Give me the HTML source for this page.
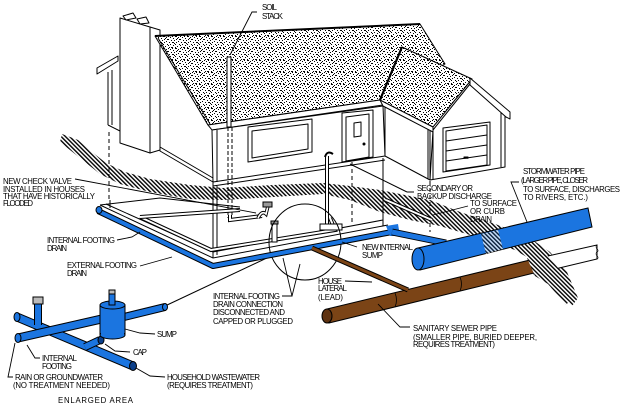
<!DOCTYPE html>
<html><head><meta charset="utf-8"><style>
html,body{margin:0;padding:0;background:#fff;}
svg{display:block}
text{font-family:"Liberation Sans",sans-serif;font-size:7.8px;fill:#000}
</style></head><body>
<svg width="620" height="412" viewBox="0 0 620 412" xmlns="http://www.w3.org/2000/svg">
<defs>
<pattern id="st" width="12" height="12" patternUnits="userSpaceOnUse">
<rect width="12" height="12" fill="#fff"/>
<path fill="#000" d="M0 0h1v1h-1zM4 0h1v1h-1zM7 0h2v1h-2zM2 1h1v1h-1zM10 1h1v1h-1zM0 3h1v1h-1zM5 2h1v1h-1zM8 3h1v1h-1zM11 3h1v1h-1zM3 4h1v1h-1zM6 4h1v1h-1zM10 5h1v1h-1zM1 6h1v1h-1zM4 6h2v1h-2zM8 6h1v1h-1zM2 8h1v1h-1zM7 8h1v1h-1zM11 8h1v1h-1zM0 9h1v1h-1zM5 9h1v1h-1zM9 10h1v1h-1zM3 11h2v1h-2zM7 11h1v1h-1zM1 11h1v1h-1zM6 7h1v1h-1zM9 2h1v1h-1z"/>
</pattern>
<pattern id="h" width="3" height="3" patternUnits="userSpaceOnUse" patternTransform="rotate(-45)">
<rect width="3" height="3" fill="#fff"/>
<rect width="1.4" height="3" fill="#000"/>
</pattern>
</defs>
<rect width="620" height="412" fill="#fff"/>

<!-- earth band -->
<polygon fill="url(#h)" points="62,134 78,140 92,152 106,163 125,172 150,179 190,185 223,188 273,185 323,183 350,186 380,190 410,196 430,200 460,212 490,222 527,236 550,252 567,272 578,298 572,306 558,285 540,265 515,250 480,238 440,226 410,220 380,212 350,200 323,194 273,197 223,200 190,199 150,192 120,184 100,174 85,162 70,150 60,142"/>

<g stroke="#000" stroke-width="1" fill="#fff" stroke-linejoin="round">
<!-- left back element -->
<polygon points="97,68 118,56 118,61 97,74"/>
<line x1="108" y1="72" x2="108" y2="125"/>
<line x1="112" y1="70" x2="112" y2="125"/>
<line x1="108" y1="125" x2="120" y2="131"/>
<line x1="109" y1="132" x2="109" y2="200" stroke-dasharray="4,3"/>

<!-- side wall -->
<polygon points="158,40 208,125 213,130 213,182 160,151"/>
<line x1="160" y1="147" x2="213" y2="178"/>
<!-- chimney -->
<polygon points="150,27 160,30 160,150 150,153"/>
<polygon points="120,18 150,27 150,153 120,143"/>
<polygon points="123,16 133,13 136,18 126,20"/>
<polygon points="137,19 146,17 149,23 140,24"/>

<!-- main roof -->
<polygon fill="url(#st)" points="155,36 420,24 445,64 380,100 208,125"/>
<line x1="155" y1="36" x2="420" y2="24" stroke-width="2"/>
<line x1="158" y1="38" x2="210" y2="124"/>
<polygon points="208,125 380,100 383,105 212,130"/>

<!-- front wall -->
<polygon points="212,130 383,106 385,156 213,182"/>
<line x1="213" y1="186" x2="385" y2="160"/>
<line x1="217" y1="130" x2="217" y2="182"/>
<line x1="387" y1="106" x2="387" y2="156"/>
<!-- window -->
<polygon points="248,127 312,119 312,152 248,162"/>
<polygon points="252,131 308,124 308,149 252,158"/>
<!-- door -->
<polygon points="342,113 373,110 373,157 342,162"/>
<polygon points="346,117 369,114 369,157 346,161"/>
<polygon points="354,123 361,122 361,136 354,137"/>
<circle cx="364" cy="144" r="1" fill="#000"/>

<!-- garage side wall -->
<polygon points="385,104 430,128 430,180 385,156"/>
<!-- garage gable wall -->
<polygon points="433,130 470,84 505,115 505,167 430,180"/>
<line x1="428" y1="128" x2="428" y2="179"/>
<line x1="433" y1="130" x2="433" y2="179"/>
<line x1="501" y1="112" x2="501" y2="167"/>
<!-- garage door -->
<polygon points="443,128 490,122 490,165 443,172"/>
<polygon points="446,131 487,125 487,165 446,171"/>
<line x1="446" y1="141" x2="487" y2="135"/>
<line x1="446" y1="151" x2="487" y2="145"/>
<line x1="446" y1="161" x2="487" y2="155"/>
<rect x="464" y="157" width="4" height="1.2" fill="#000"/>

<!-- garage roof -->
<polygon fill="url(#st)" points="380,100 402,47 472,79 433,127"/>
<line x1="380" y1="100" x2="402" y2="47" stroke-width="2.2"/>
<polygon points="380,100 433,127 433,132 383,106"/>
<polygon points="470,78 510,112 510,119 506,117 470,85"/>

<!-- soil stack -->
<rect x="227" y="57" width="4" height="70" fill="#fff"/>
<line x1="228" y1="127" x2="228" y2="218" stroke-dasharray="4,2"/>
<line x1="232" y1="127" x2="232" y2="215" stroke-dasharray="4,2"/>
</g>

<!-- basement lines -->
<g stroke="#000" stroke-width="1" fill="none">
<line x1="213" y1="182" x2="213" y2="258"/>
<line x1="217" y1="186" x2="217" y2="255"/>
<line x1="383" y1="158" x2="383" y2="226"/>
<line x1="430" y1="181" x2="430" y2="232" stroke-dasharray="4,3"/>
<line x1="352" y1="162" x2="352" y2="222" stroke-dasharray="4,3"/>
<polyline points="100,205 213,258 388,225"/>
<polyline points="106,204 213,252 383,220"/>
<polyline points="100,205 160,198 240,207"/>
<line x1="110" y1="200" x2="110" y2="208"/>
<!-- internal footing drain -->
<polyline points="140,217 211,250 335,230 330,218" stroke-width="4"/>
<polyline points="140,217 211,250 335,230 330,218" stroke="#fff" stroke-width="2"/>
<polyline points="140,217 240,210" stroke-width="4"/>
<polyline points="140,217 240,210" stroke="#fff" stroke-width="2"/>
<!-- stack pipe to check valve -->
<polyline points="230,215 230,220 262,216" stroke-width="4"/>
<polyline points="230,215 230,220 262,216" stroke="#fff" stroke-width="2"/>
<path d="M258,218 q4,-8 8,-4 l2,-8" stroke-width="3.5"/>
<path d="M258,218 q4,-8 8,-4 l2,-8" stroke="#fff" stroke-width="1.6"/>
<rect x="263" y="202" width="9" height="5" fill="#999"/>
<!-- secondary pipe -->
<line x1="327" y1="156" x2="327" y2="228" stroke-width="4"/>
<line x1="327" y1="156" x2="327" y2="228" stroke="#fff" stroke-width="2"/>
<path d="M325,157 q2,-7 8,-3" stroke-width="2"/>
<line x1="350" y1="164" x2="407" y2="192"/>
<line x1="407" y1="192" x2="414" y2="192"/>
<!-- to surface pipe -->
<line x1="386" y1="200" x2="432" y2="220" stroke-width="4"/>
<line x1="386" y1="200" x2="432" y2="220" stroke="#fff" stroke-width="2"/>
<!-- capped connection -->
<rect x="272" y="224" width="5" height="18" fill="#fff"/>
<rect x="271" y="221" width="7" height="3" fill="#999"/>
<rect x="320" y="224" width="22" height="6" fill="#fff"/>
<!-- sump circle -->
<ellipse cx="305" cy="242" rx="36" ry="38"/>
<line x1="165" y1="306" x2="271" y2="256"/>
</g>

<!-- external blue drain -->
<polyline points="98,211 213,266 392,232" fill="none" stroke="#000" stroke-width="6" stroke-linejoin="round"/>
<polyline points="98,211 213,266 392,232" fill="none" stroke="#1b75e0" stroke-width="4" stroke-linejoin="round"/>
<ellipse cx="99" cy="210" rx="3" ry="3.5" fill="#1b75e0" stroke="#000"/>
<polygon points="386,226 398,224 400,236 390,236" fill="#1b75e0"/>
<line x1="392" y1="232" x2="446" y2="243" stroke="#000" stroke-width="7"/>
<line x1="392" y1="232" x2="446" y2="243" stroke="#1b75e0" stroke-width="5"/>

<!-- stormwater pipe -->
<polygon points="418,248 588,208 592,227 420,270" fill="#1b75e0" stroke="#000"/>
<ellipse cx="418" cy="259" rx="6" ry="11" fill="#1b75e0" stroke="#000"/>
<polygon points="481,234 498,230 503,249 486,254" fill="url(#h)" opacity="0.75"/>

<!-- sewer pipe -->
<polygon points="530,260 597,245 597,259 534,274" fill="#fff" stroke="#000"/>
<path d="M597,245 c-3,3 3,5 0,7 c-3,3 3,5 0,7" fill="#fff" stroke="#000"/>
<polygon points="327,309 530,260 534,273 329,323" fill="#7b4416" stroke="#000"/>
<ellipse cx="327" cy="316" rx="5" ry="7" fill="#5e3210" stroke="#000"/>
<path d="M395,293 q3,7 0,14" stroke="#000" fill="none" stroke-width="0.8"/>
<path d="M460,277 q3,7 0,14" stroke="#000" fill="none" stroke-width="0.8"/>
<polygon fill="url(#h)" points="527,258 546,254 560,270 572,298 566,305 548,284 535,276"/>
<!-- house lateral -->
<line x1="312" y1="248" x2="408" y2="290" stroke="#000" stroke-width="5"/>
<line x1="312" y1="248" x2="408" y2="290" stroke="#7b4416" stroke-width="3"/>

<!-- enlarged area pipes -->
<g stroke-linecap="butt">
<line x1="17" y1="317" x2="133" y2="366" stroke="#000" stroke-width="9"/>
<line x1="17" y1="317" x2="133" y2="366" stroke="#1b75e0" stroke-width="7"/>
<line x1="85" y1="347" x2="100" y2="340" stroke="#000" stroke-width="8"/>
<line x1="85" y1="347" x2="100" y2="340" stroke="#1b75e0" stroke-width="6"/>
<ellipse cx="101" cy="340" rx="3" ry="4" fill="#0b3f8a" stroke="#000"/>
<ellipse cx="133" cy="366" rx="3.5" ry="4.5" fill="#0b3f8a" stroke="#000"/>
<ellipse cx="17" cy="317" rx="3" ry="4.5" fill="#1b75e0" stroke="#000"/>
<line x1="38" y1="304" x2="38" y2="325" stroke="#000" stroke-width="8"/>
<line x1="38" y1="304" x2="38" y2="325" stroke="#1b75e0" stroke-width="6"/>
<rect x="33" y="297" width="10" height="7" fill="#bbb" stroke="#000"/>
<line x1="18" y1="338" x2="106" y2="318" stroke="#000" stroke-width="9"/>
<line x1="18" y1="338" x2="106" y2="318" stroke="#1b75e0" stroke-width="7"/>
<ellipse cx="18" cy="338" rx="3" ry="4.5" fill="#1b75e0" stroke="#000"/>
<line x1="120" y1="318" x2="165" y2="307" stroke="#000" stroke-width="8"/>
<line x1="120" y1="318" x2="165" y2="307" stroke="#1b75e0" stroke-width="6"/>
<ellipse cx="165" cy="307" rx="2.5" ry="3.5" fill="#1b75e0" stroke="#000"/>
<rect x="100" y="305" width="25" height="30" fill="#1b75e0" stroke="#000"/>
<ellipse cx="112.5" cy="335" rx="12.5" ry="4" fill="#1b75e0" stroke="#000"/>
<rect x="101" y="320" width="23" height="14" fill="#1b75e0"/>
<ellipse cx="112.5" cy="305" rx="12.5" ry="4" fill="#1b75e0" stroke="#000"/>
<rect x="109" y="292" width="6" height="13" fill="#1b75e0" stroke="#000"/>
<rect x="109" y="290" width="6" height="4" fill="#bbb" stroke="#000"/>
</g>

<!-- leader lines -->
<g stroke="#000" stroke-width="0.9" fill="none">
<polyline points="257,12 252,12 230,55"/>
<line x1="75" y1="179" x2="256" y2="213"/>
<polyline points="117,240 132,237 140,232"/>
<polyline points="140,266 172,257"/>
<polyline points="357,247 342,242"/>
<polyline points="345,281 372,282"/>
<polyline points="282,296 292,296 283,258"/>
<polyline points="292,296 300,264"/>
<polyline points="378,304 400,327 410,327"/>
<polyline points="125,329 140,333 155,334"/>
<polyline points="105,344 115,351 130,352"/>
<polyline points="27,345 35,358 40,358"/>
<polyline points="15,343 8,377 13,377"/>
<polyline points="136,368 150,376 165,377"/>
<polyline points="468,206 433,215"/>
<polyline points="519,182 511,182 527,222"/>
</g>

<!-- labels -->
<text x="262" y="10" textLength="15">SOIL</text>
<text x="262" y="19" textLength="21">STACK</text>
<text x="3" y="184" textLength="69">NEW CHECK VALVE</text>
<text x="3" y="192" textLength="82">INSTALLED IN HOUSES</text>
<text x="3" y="199" textLength="92">THAT HAVE HISTORICALLY</text>
<text x="3" y="206" textLength="30">FLOODED</text>
<text x="47" y="243" textLength="68">INTERNAL FOOTING</text>
<text x="47" y="251" textLength="20">DRAIN</text>
<text x="67" y="268" textLength="70">EXTERNAL FOOTING</text>
<text x="67" y="276" textLength="20">DRAIN</text>
<text x="362" y="250" textLength="51">NEW INTERNAL</text>
<text x="362" y="258" textLength="21">SUMP</text>
<text x="318" y="284" textLength="24">HOUSE</text>
<text x="318" y="291" textLength="29">LATERAL</text>
<text x="318" y="300" textLength="25">(LEAD)</text>
<text x="213" y="299" textLength="67">INTERNAL FOOTING</text>
<text x="213" y="307" textLength="70">DRAIN CONNECTION</text>
<text x="213" y="315" textLength="72">DISCONNECTED AND</text>
<text x="213" y="324" textLength="80">CAPPED OR PLUGGED</text>
<text x="413" y="331" textLength="84">SANITARY SEWER PIPE</text>
<text x="413" y="340" textLength="124">(SMALLER PIPE, BURIED DEEPER,</text>
<text x="413" y="347" textLength="82">REQUIRES TREATMENT)</text>
<text x="157" y="337" textLength="20">SUMP</text>
<text x="133" y="355" textLength="14">CAP</text>
<text x="42" y="361" textLength="35">INTERNAL</text>
<text x="42" y="369" textLength="30">FOOTING</text>
<text x="15" y="380" textLength="88">RAIN OR GROUNDWATER</text>
<text x="13" y="388" textLength="97">(NO TREATMENT NEEDED)</text>
<text x="167" y="380" textLength="93">HOUSEHOLD WASTEWATER</text>
<text x="167" y="388" textLength="86">(REQUIRES TREATMENT)</text>
<text x="58" y="403" textLength="75">ENLARGED AREA</text>
<text x="417" y="191" textLength="56">SECONDARY OR</text>
<text x="417" y="199" textLength="75">BACKUP DISCHARGE</text>
<text x="470" y="206" textLength="47">TO SURFACE</text>
<text x="470" y="214" textLength="35">OR CURB</text>
<text x="470" y="222" textLength="22">DRAIN</text>
<text x="523" y="174" textLength="62">STORMWATER PIPE</text>
<text x="521" y="183" textLength="67">(LARGER PIPE, CLOSER</text>
<text x="523" y="192" textLength="97">TO SURFACE, DISCHARGES</text>
<text x="523" y="200" textLength="65">TO RIVERS, ETC.)</text>
</svg>
</body></html>
